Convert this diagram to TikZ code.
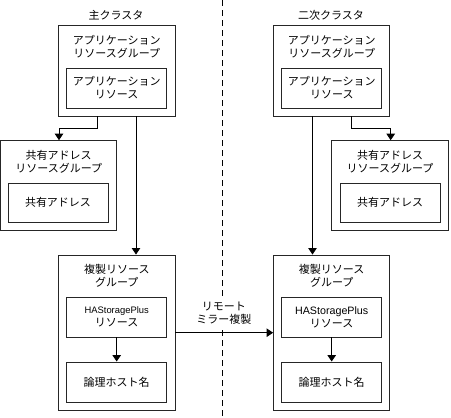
\documentclass[tikz,border=0pt]{standalone}
\usepackage{fontspec}
\setmainfont{Noto Sans CJK JP}
\newfontfamily\lat{Liberation Sans}
\usetikzlibrary{arrows.meta}
\tikzset{
  grp/.style={draw=black!85, line width=0.9pt, minimum width=116.3pt, inner sep=0pt},
  inbox/.style={draw=black!85, line width=0.9pt, minimum width=100pt, minimum height=40pt, inner sep=0pt, align=center, font=\fontsize{11}{13}\selectfont},
  ttl/.style={align=center, inner sep=0pt, font=\fontsize{11}{13}\selectfont},
  conn/.style={line width=0.9pt, -{Triangle[length=6.5pt,width=8.5pt]}},
  plain/.style={line width=0.9pt}
}
\begin{document}
\begin{tikzpicture}[x=1pt,y=-1pt]
\useasboundingbox (0,0) rectangle (451,418);
% divider
\draw[line width=0.9pt, dash pattern=on 6pt off 4pt] (222.7,0) -- (222.7,418);
% cluster labels
\node[ttl] (lcl) at (116,15) {主クラスタ};
\node[ttl] (rcl) at (331,15) {二次クラスタ};
% ===== left =====
\node[grp, minimum height=91pt] (lag) at (116.8,70.5) {};
\node[ttl] (lagt) at (116.8,46.5) {アプリケーション\\リソースグループ};
\node[inbox] (lar) at (116.7,88) {アプリケーション\\リソース};
\node[grp, minimum width=116pt, minimum height=89.3pt] (lsg) at (58.7,185.3) {};
\node[ttl] (lsgt) at (58.7,161.5) {共有アドレス\\リソースグループ};
\node[inbox, minimum height=39pt] (lsa) at (58,202.5) {共有アドレス};
\node[grp, minimum height=155pt] (lrg) at (116.8,332.5) {};
\node[ttl] (lrgt) at (116.8,275.5) {複製リソース\\グループ};
\node[inbox] (lha) at (116.7,317) {{\lat\fontsize{9.4}{13}\selectfont HAStoragePlus}\\リソース};
\node[inbox] (lho) at (116.7,382) {論理ホスト名};
% ===== right =====
\node[grp, minimum height=91pt] (rag) at (331.7,70.5) {};
\node[ttl] (ragt) at (331.7,46.5) {アプリケーション\\リソースグループ};
\node[inbox] (rar) at (331.8,88) {アプリケーション\\リソース};
\node[grp, minimum height=89.3pt] (rsg) at (390,185.3) {};
\node[ttl] (rsgt) at (390,161.5) {共有アドレス\\リソースグループ};
\node[inbox, minimum height=39pt] (rsa) at (390,202.5) {共有アドレス};
\node[grp, minimum height=155pt] (rrg) at (331.7,332.5) {};
\node[ttl] (rrgt) at (331.7,275.5) {複製リソース\\グループ};
\node[inbox] (rha) at (331.7,317) {{\lat\fontsize{10.7}{13}\selectfont HAStoragePlus}\\リソース};
\node[inbox] (rho) at (331.7,382) {論理ホスト名};
% remote label
\node[ttl, fill=white, inner xsep=2pt, inner ysep=4pt] (rem) at (224,313.5) {リモート\\ミラー複製};
% ===== connectors =====
\draw[conn] (lag.south -| 97.7,0) |- (59,128) -- (lsg.north -| 59,0);
\draw[conn] (lag.south -| 136,0) -- (lrg.north -| 136,0);
\draw[conn] (rag.south -| 351.7,0) |- (390.7,128) -- (rsg.north -| 390.7,0);
\draw[conn] (rag.south -| 312.5,0) -- (rrg.north -| 312.5,0);
\draw[conn] (lha.south) -- (lho.north);
\draw[conn] (rha.south) -- (rho.north);
\draw[conn] (lrg.east |- 0,332.7) -- (rrg.west |- 0,332.7);
\end{tikzpicture}
\end{document}
